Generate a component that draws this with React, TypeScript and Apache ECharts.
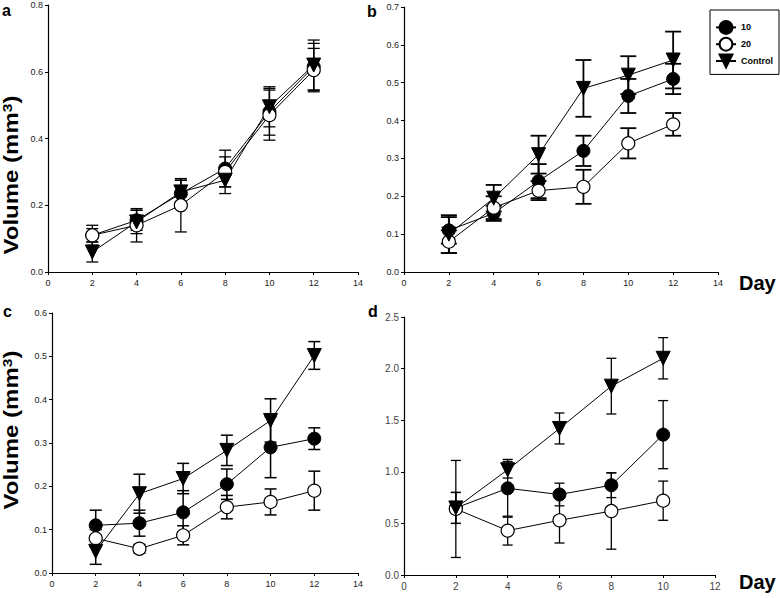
import React, { useEffect, useRef } from "react";
import * as echarts from "echarts";

const days = [2, 4, 6, 8, 10, 12];
const daysD = [2, 4, 6, 8, 10];

// Panel a
const a10 = [0.11, 0.155, 0.235, 0.31, 0.48, 0.615];
const a10Err = [0.02, 0.03, 0.04, 0.055, 0.07, 0.07];
const a20 = [0.11, 0.14, 0.2, 0.3, 0.47, 0.605];
const a20Err = [0.03, 0.05, 0.08, 0.045, 0.075, 0.065];
const aCtl = [0.06, 0.15, 0.24, 0.275, 0.495, 0.62];
const aCtlErr = [0.03, 0.035, 0.035, 0.04, 0.06, 0.075];

// Panel b
const b10 = [0.11, 0.155, 0.24, 0.32, 0.465, 0.51];
const b10Err = [0.035, 0.02, 0.045, 0.04, 0.045, 0.04];
const b20 = [0.08, 0.17, 0.215, 0.225, 0.34, 0.39];
const b20Err = [0.03, 0.03, 0.025, 0.045, 0.04, 0.03];
const bCtl = [0.1, 0.195, 0.31, 0.485, 0.52, 0.56];
const bCtlErr = [0.05, 0.035, 0.05, 0.075, 0.05, 0.075];

// Panel c
const c10 = [0.11, 0.115, 0.14, 0.205, 0.29, 0.31];
const c10Err = [0.035, 0.03, 0.05, 0.035, 0.07, 0.025];
const c20 = [0.08, 0.056, 0.087, 0.152, 0.164, 0.19];
const c20Err = [0.02, 0.01, 0.022, 0.027, 0.03, 0.045];
const cCtl = [0.05, 0.183, 0.218, 0.283, 0.352, 0.502];
const cCtlErr = [0.03, 0.045, 0.035, 0.035, 0.05, 0.032];

// Panel d
const d10 = [0.65, 0.84, 0.78, 0.87, 1.36];
const d10Err = [0.15, 0.28, 0.11, 0.12, 0.33];
const d20 = [0.64, 0.43, 0.53, 0.62, 0.72];
const d20Err = [0.47, 0.14, 0.22, 0.37, 0.19];
const dCtl = [0.65, 1.02, 1.42, 1.83, 2.1];
const dCtlErr = [0.15, 0.08, 0.15, 0.27, 0.2];

const seriesNames = ["10", "20", "Control"];

const panels = [
  { xs: days, vals: [a10, a20, aCtl], errs: [a10Err, a20Err, aCtlErr], yMax: 0.8, yInt: 0.2, xMax: 14, grid: { left: 48, top: 5, width: 310, height: 267 }, cap: 12, ew: 1.3, font: 9, fc: "#222" },
  { xs: days, vals: [b10, b20, bCtl], errs: [b10Err, b20Err, bCtlErr], yMax: 0.7, yInt: 0.1, xMax: 14, grid: { left: 404, top: 7, width: 314, height: 265 }, cap: 16, ew: 1.8, font: 9, fc: "#222" },
  { xs: days, vals: [c10, c20, cCtl], errs: [c10Err, c20Err, cCtlErr], yMax: 0.6, yInt: 0.1, xMax: 14, grid: { left: 52, top: 313, width: 306, height: 260 }, cap: 12, ew: 1.5, font: 9, fc: "#222" },
  { xs: daysD, vals: [d10, d20, dCtl], errs: [d10Err, d20Err, dCtlErr], yMax: 2.5, yInt: 0.5, xMax: 12, grid: { left: 404, top: 317, width: 311, height: 258 }, cap: 10, ew: 1.3, font: 10, fc: "#444" },
];

const symbolStyles: any[] = [
  { symbol: "circle", symbolSize: 13, itemStyle: { color: "#000", borderColor: "#000", borderWidth: 1 } },
  { symbol: "circle", symbolSize: 13, itemStyle: { color: "#fff", borderColor: "#000", borderWidth: 1.2 } },
  { symbol: "triangle", symbolSize: 14, symbolRotate: 180, itemStyle: { color: "#000", borderColor: "#000", borderWidth: 1 } },
];

export default function App() {
  const ref = useRef<HTMLDivElement>(null);
  useEffect(() => {
    if (!ref.current) return;
    const chart = echarts.init(ref.current, null, { renderer: "svg" });
    const grids: any[] = [];
    const xAxes: any[] = [];
    const yAxes: any[] = [];
    const series: any[] = [];
    const axisLine = { show: true, onZero: false, lineStyle: { color: "#000", width: 1.2 } };
    panels.forEach((p, gi) => {
      grids.push({ ...p.grid, containLabel: false });
      xAxes.push({
        type: "value", gridIndex: gi, min: 0, max: p.xMax, interval: 2,
        axisLine, axisTick: { show: true, length: 3, lineStyle: { color: "#000" } },
        splitLine: { show: false },
        axisLabel: { fontSize: p.font, color: p.fc, fontFamily: "Liberation Sans", margin: 6 },
      });
      yAxes.push({
        type: "value", gridIndex: gi, min: 0, max: p.yMax, interval: p.yInt,
        axisLine, axisTick: { show: true, length: 3, lineStyle: { color: "#000" } },
        splitLine: { show: false },
        axisLabel: { fontSize: p.font, color: p.fc, fontFamily: "Liberation Sans", margin: 5, formatter: (v: number) => v.toFixed(1) },
      });
      const errData: number[][] = [];
      p.vals.forEach((vals, si) => {
        vals.forEach((v, i) => {
          errData.push([p.xs[i], v - p.errs[si][i], v + p.errs[si][i]]);
        });
      });
      const cap = p.cap;
      const ew = p.ew;
      series.push({
        type: "custom", name: "err", xAxisIndex: gi, yAxisIndex: gi, z: 1,
        data: errData, encode: { x: 0, y: [1, 2] },
        renderItem: (params: any, api: any) => {
          const x = api.value(0);
          const lo = api.coord([x, api.value(1)]);
          const hi = api.coord([x, api.value(2)]);
          const st = { stroke: "#000", lineWidth: ew };
          return {
            type: "group",
            children: [
              { type: "line", shape: { x1: lo[0], y1: lo[1], x2: hi[0], y2: hi[1] }, style: st },
              { type: "line", shape: { x1: lo[0] - cap / 2, y1: lo[1], x2: lo[0] + cap / 2, y2: lo[1] }, style: st },
              { type: "line", shape: { x1: hi[0] - cap / 2, y1: hi[1], x2: hi[0] + cap / 2, y2: hi[1] }, style: st },
            ],
          };
        },
      });
      p.vals.forEach((vals, si) => {
        series.push({
          type: "line", name: seriesNames[si], xAxisIndex: gi, yAxisIndex: gi, z: 3,
          data: vals.map((v, i) => [p.xs[i], v]),
          lineStyle: { color: "#000", width: 1 },
          ...symbolStyles[si],
        });
      });
    });

    const bold = (t: string, x: number, y: number, size: number, extra: any = {}) => ({
      type: "text", x, y,
      style: { text: t, fontSize: size, fontWeight: "bold", fontFamily: "Liberation Sans", fill: "#000", ...extra },
    });

    const volLabel = (y: number) => ({
      type: "text", x: 11, y, rotation: Math.PI / 2, scaleX: 1.2,
      style: {
        text: "{n|Volume (mm}{s|3}{n|)}",
        align: "center", verticalAlign: "middle",
        rich: {
          n: { fontSize: 20, fontWeight: "bold", fontFamily: "Liberation Sans", fill: "#000" },
          s: { fontSize: 13, fontWeight: "bold", fontFamily: "Liberation Sans", fill: "#000", verticalAlign: "top" },
        },
      },
    });

    chart.setOption({
      animation: false,
      backgroundColor: "#fff",
      grid: grids,
      xAxis: xAxes,
      yAxis: yAxes,
      legend: {
        data: seriesNames,
        orient: "vertical",
        left: 710, top: 10,
        padding: [10, 6, 6, 5],
        itemWidth: 20, itemHeight: 16, itemGap: 2,
        borderColor: "#000", borderWidth: 1,
        textStyle: { fontSize: 9, fontWeight: "bold", fontFamily: "Liberation Sans", color: "#000" },
      },
      graphic: [
        bold("a", 2, 2, 16),
        bold("b", 367, 3, 16),
        bold("c", 3, 303, 16),
        bold("d", 368, 303, 16),
        bold("Day", 739, 273, 20),
        bold("Day", 739, 572, 20),
        volLabel(175),
        volLabel(430),
      ],
      series,
    });
    return () => chart.dispose();
  }, []);
  return <div ref={ref} style={{ position: "fixed", left: 0, top: 0, width: 780, height: 598, background: "#fff" }} />;
}
